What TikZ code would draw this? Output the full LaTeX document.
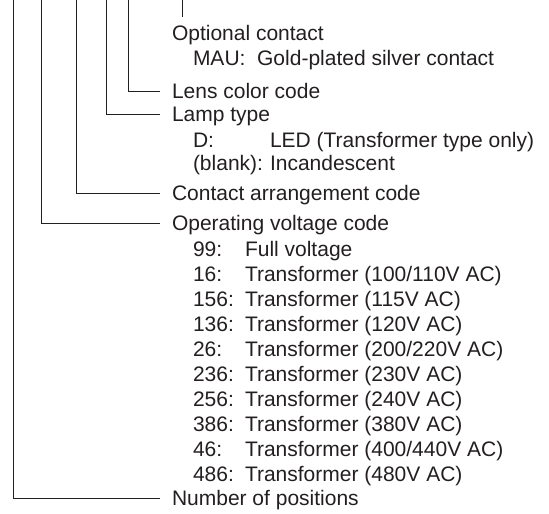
\documentclass[tikz,border=0pt]{standalone}
\usepackage{fontspec}
\setmainfont{Liberation Sans}
\usetikzlibrary{calc}
\definecolor{ink}{HTML}{231F20}
\begin{document}
\begin{tikzpicture}[x=1pt,y=-1pt,
  lbl/.style={inner sep=0pt,outer sep=0pt,anchor=west,text height=15pt,text depth=0pt,
    font=\fontsize{21}{25}\selectfont,text=ink},
  lead/.style={draw=ink,line width=1pt}]
\useasboundingbox (0,0) rectangle (549,514);
% main labels
\node[lbl] (opt) at (172,33) {Optional contact};
\node[lbl] (mau) at (193,58) {MAU:\ \ Gold-plated silver contact};
\node[lbl] (lens) at (172,91) {Lens color code};
\node[lbl] (lamp) at (172,114) {Lamp type};
\node[lbl] (dk) at (193,140) {D:};
\node[lbl] (dv) at (270,140) {LED (Transformer type only)};
\node[lbl] (bk) at (193,163) {(blank):};
\node[lbl] (bv) at (270,163) {Incandescent};
\node[lbl] (cont) at (172,193) {Contact arrangement code};
\node[lbl] (opv) at (172,223) {Operating voltage code};
\foreach \k/\v/\y [count=\i] in {99/Full voltage/249,
  16/Transformer (100\slash 110V AC)/274,
  156/Transformer (115V AC)/299,
  136/Transformer (120V AC)/324,
  26/Transformer (200\slash 220V AC)/349,
  236/Transformer (230V AC)/374,
  256/Transformer (240V AC)/399,
  386/Transformer (380V AC)/424,
  46/Transformer (400\slash 440V AC)/449,
  486/Transformer (480V AC)/474}{
  \node[lbl] (vk\i) at (193,\y) {\k:};
  \node[lbl] (vv\i) at (245,\y) {\v};
}
\node[lbl] (num) at (172,498) {Number of positions};
% leader tops
\coordinate (c1) at (13.3,0);
\coordinate (c2) at (41.7,0);
\coordinate (c3) at (76.7,0);
\coordinate (c4) at (106,0);
\coordinate (c5) at (128.3,0);
\coordinate (c6) at (182.5,0);
\coordinate (e6) at (182.5,17);
% leaders
\draw[lead] (c1) |- ($(num.west)+(-12,0)$);
\draw[lead] (c2) |- ($(opv.west)+(-12,0)$);
\draw[lead] (c3) |- ($(cont.west)+(-12,0)$);
\draw[lead] (c4) |- ($(lamp.west)+(-12,0)$);
\draw[lead] (c5) |- ($(lens.west)+(-12,0)$);
\draw[lead] (c6) -- (e6);
\end{tikzpicture}
\end{document}
